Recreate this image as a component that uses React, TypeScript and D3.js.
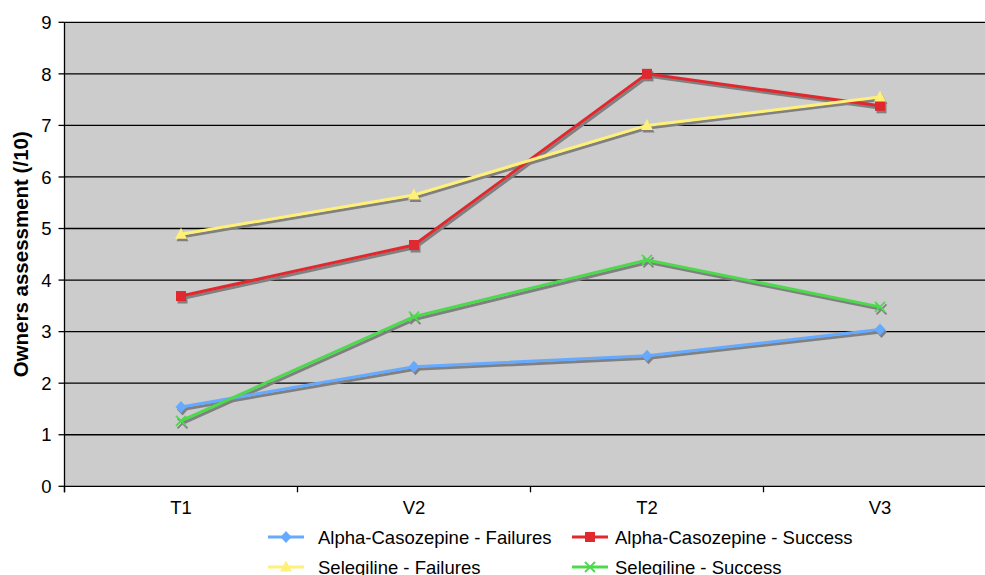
import * as d3 from "d3";
import React from "react";

const categories = ["T1", "V2", "T2", "V3"];
const alphaFailures = [1.54, 2.32, 2.53, 3.04];
const alphaSuccess = [3.69, 4.68, 8.0, 7.38];
const seleFailures = [4.89, 5.65, 7.0, 7.55];
const seleSuccess = [1.27, 3.29, 4.39, 3.48];
const yTicks = [0, 1, 2, 3, 4, 5, 6, 7, 8, 9];

type Marker = "diamond" | "square" | "triangle" | "cross";

const series: { name: string; values: number[]; color: string; marker: Marker }[] = [
  { name: "Alpha-Casozepine - Failures", values: alphaFailures, color: "#66aaff", marker: "diamond" },
  { name: "Alpha-Casozepine - Success", values: alphaSuccess, color: "#e0282e", marker: "square" },
  { name: "Selegiline - Failures", values: seleFailures, color: "#fff07a", marker: "triangle" },
  { name: "Selegiline - Success", values: seleSuccess, color: "#4cd94c", marker: "cross" },
];

const font = "'Liberation Sans', Arial, sans-serif";

const MarkerShape: React.FC<{ type: Marker; x: number; y: number; color: string }> = ({ type, x, y, color }) => {
  if (type === "diamond") {
    return <path d={`M${x},${y - 6}L${x + 5.5},${y}L${x},${y + 6}L${x - 5.5},${y}Z`} fill={color} />;
  }
  if (type === "square") {
    return <rect x={x - 5} y={y - 5} width={10} height={10} fill={color} />;
  }
  if (type === "triangle") {
    return <path d={`M${x},${y - 6.5}L${x + 6},${y + 4.5}L${x - 6},${y + 4.5}Z`} fill={color} />;
  }
  return (
    <path
      d={`M${x - 5},${y - 5}L${x + 5},${y + 5}M${x - 5},${y + 5}L${x + 5},${y - 5}`}
      stroke={color}
      strokeWidth={1.8}
      fill="none"
    />
  );
};

export default function App() {
  const width = 985;
  const height = 575;
  const left = 64.5;
  const top = 22.3;
  const bottom = 486.3;
  const bandW = 233;

  const x = d3
    .scaleBand()
    .domain(categories)
    .range([left, left + bandW * categories.length]);
  const y = d3.scaleLinear().domain([0, 9]).range([bottom, top]);
  const cx = (c: string) => (x(c) as number) + x.bandwidth() / 2;

  const line = (vals: number[], dx = 0, dy = 0) =>
    d3
      .line<number>()
      .x((_, i) => cx(categories[i]) + dx)
      .y((v) => y(v) + dy)(vals) as string;

  const legendRows = [
    { y: 537, items: [series[0], series[1]] },
    { y: 567, items: [series[2], series[3]] },
  ];
  const legendX = [
    { lx: 268, tx: 318 },
    { lx: 572, tx: 615 },
  ];

  return (
    <div style={{ position: "absolute", left: 0, top: 0 }}>
      <svg width={width} height={height} style={{ display: "block", fontFamily: font }}>
        <rect x={0} y={0} width={width} height={height} fill="#ffffff" />
        <rect x={left} y={top} width={bandW * 4} height={bottom - top} fill="#cccccc" />
        {yTicks.map((t) => (
          <g key={t}>
            <line x1={left} x2={left + bandW * 4} y1={y(t)} y2={y(t)} stroke="#000" strokeWidth={1.3} />
            <line x1={left - 6} x2={left} y1={y(t)} y2={y(t)} stroke="#000" strokeWidth={1.3} />
            <text x={left - 13} y={y(t)} dy="0.36em" textAnchor="end" fontSize={18.5} fill="#000">
              {t}
            </text>
          </g>
        ))}
        <line x1={left} x2={left} y1={top} y2={bottom + 6} stroke="#000" strokeWidth={1.3} />
        {categories.map((c) => (
          <g key={c}>
            <line x1={x(c) as number} x2={x(c) as number} y1={bottom} y2={bottom + 6} stroke="#000" strokeWidth={1.3} />
            <text x={cx(c)} y={507} dy="0.36em" textAnchor="middle" fontSize={18.5} fill="#000">
              {c}
            </text>
          </g>
        ))}
        <text
          transform={`translate(21, ${(top + bottom) / 2}) rotate(-90)`}
          textAnchor="middle"
          dy="0.36em"
          fontSize={20.5}
          fontWeight="bold"
          fill="#000"
        >
          Owners assessment (/10)
        </text>

        {/* shadows */}
        {series.map((s) => (
          <g key={s.name + "-shadow"}>
            <path d={line(s.values, 1.5, 2.5)} fill="none" stroke="#808080" strokeWidth={3} />
            {s.values.map((v, i) => (
              <MarkerShape key={i} type={s.marker} x={cx(categories[i]) + 1.5} y={y(v) + 2.5} color="#808080" />
            ))}
          </g>
        ))}
        {series.map((s) => (
          <g key={s.name}>
            <path d={line(s.values)} fill="none" stroke={s.color} strokeWidth={3} />
            {s.values.map((v, i) => (
              <MarkerShape key={i} type={s.marker} x={cx(categories[i])} y={y(v)} color={s.color} />
            ))}
          </g>
        ))}

        {legendRows.map((row) =>
          row.items.map((s, k) => (
            <g key={s.name}>
              <line
                x1={legendX[k].lx}
                x2={legendX[k].lx + 36}
                y1={row.y}
                y2={row.y}
                stroke={s.color}
                strokeWidth={3}
              />
              <MarkerShape type={s.marker} x={legendX[k].lx + 18} y={row.y} color={s.color} />
              <text x={legendX[k].tx} y={row.y} dy="0.36em" fontSize={18.5} fill="#000">
                {s.name}
              </text>
            </g>
          ))
        )}
      </svg>
    </div>
  );
}
